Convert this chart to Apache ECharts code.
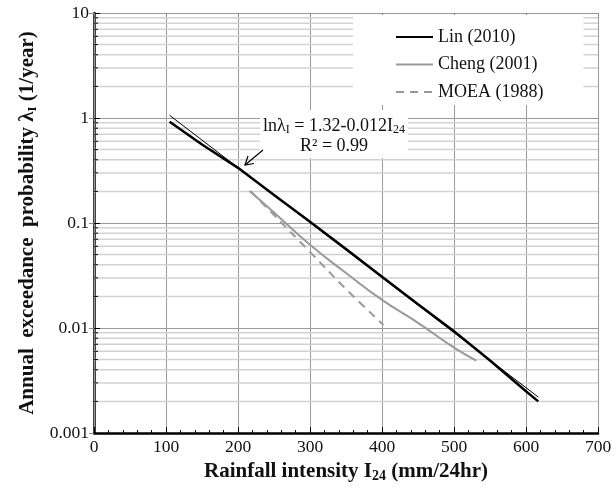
<!DOCTYPE html>
<html>
<head>
<meta charset="utf-8">
<script src="https://cdn.jsdelivr.net/npm/echarts@6/dist/echarts.min.js"></script>
<style>
html, body { margin: 0; padding: 0; background: #fff; }
#main { width: 616px; height: 491px; }
</style>
</head>
<body>
<div id="main"></div>
<script>
// values: [I24, lambda]
var linData   = [[105, 0.92], [150, 0.56], [200, 0.335], [250, 0.185], [300, 0.103], [350, 0.0565],
                 [400, 0.0308], [450, 0.0168], [500, 0.0093], [550, 0.0049], [600, 0.0025], [617, 0.002]];
var fitData   = [[105, 1.06], [617, 0.0022]];   // ln(lambda) = 1.32 - 0.012 I24
var chengData = [[216, 0.202], [250, 0.126], [300, 0.062], [350, 0.0334], [400, 0.0185],
                 [450, 0.0112], [500, 0.0065], [531, 0.0049]];
var moeaData  = [[218, 0.2], [250, 0.119], [300, 0.053], [350, 0.0235], [402, 0.0107]];

var seriesNames = ['Lin (2010)', 'Cheng (2001)', 'MOEA (1988)'];
var yDecades = [0.001, 0.01, 0.1, 1];
var yMinorSteps = [2, 3, 4, 5, 6, 7, 8, 9];

var FONT = 'Liberation Serif';

// minor log levels 0.002 ... 9
var minorLevels = [];
for (var i = 0; i < yDecades.length; i++) {
	for (var j = 0; j < yMinorSteps.length; j++) {
		minorLevels.push([0, +(yDecades[i] * yMinorSteps[j]).toPrecision(3)]);
	}
}

var chart = echarts.init(document.getElementById('main'));

chart.setOption({
	backgroundColor: '#fff',
	animation: false,
	grid: { left: 94, right: 18, top: 13, bottom: 58 },
	legend: {
		data: seriesNames,
		orient: 'vertical',
		left: 353,
		top: 15,
		backgroundColor: '#fff',
		padding: [13, 40, 4, 42],
		itemWidth: 37,
		itemHeight: 14,
		itemGap: 9.5,
		itemStyle: { opacity: 0 },
		textStyle: { fontFamily: FONT, fontSize: 18, color: '#111' }
	},
	xAxis: [{
		type: 'value',
		min: 0, max: 700, interval: 100,
		name: '{b|Rainfall intensity I}{s|24}{b| (mm/24hr)}',
		nameLocation: 'middle',
		nameGap: 22,
		nameTextStyle: {
			rich: {
				b: { fontFamily: FONT, fontWeight: 'bold', fontSize: 21, color: '#111' },
				s: { fontFamily: FONT, fontWeight: 'bold', fontSize: 14, color: '#111', padding: [9, 0, 0, 0] }
			}
		},
		axisLine: { show: true, lineStyle: { color: '#000', width: 2.5 } },
		axisTick: { inside: true, length: 6, lineStyle: { color: '#000' } },
		minorTick: { show: true, splitNumber: 5, length: 3, lineStyle: { color: '#000' } },
		axisLabel: { fontFamily: FONT, fontSize: 17.5, color: '#111', margin: 5 },
		splitLine: { show: true, lineStyle: { color: '#9a9a9a', width: 1 } }
	}, {
		type: 'value',
		position: 'top',
		min: 0, max: 700, interval: 100,
		axisLine: { show: true, lineStyle: { color: '#999', width: 1 } },
		axisTick: { inside: true, length: 5, lineStyle: { color: '#888' } },
		axisLabel: { show: false },
		splitLine: { show: false }
	}],
	yAxis: [{
		type: 'log',
		logBase: 10,
		min: 0.001, max: 10,
		name: '{b|Annual  exceedance  probability λ}{s|I}{b| (1/year)}',
		nameLocation: 'middle',
		nameGap: 54,
		nameTextStyle: {
			rich: {
				b: { fontFamily: FONT, fontWeight: 'bold', fontSize: 21, color: '#111' },
				s: { fontFamily: FONT, fontWeight: 'bold', fontSize: 13, color: '#111', padding: [9, 0, 0, 0] }
			}
		},
		axisLine: { show: true, lineStyle: { color: '#000', width: 2.5 } },
		axisTick: { inside: true, length: 6, lineStyle: { color: '#000' } },
		axisLabel: { fontFamily: FONT, fontSize: 17.5, color: '#111', margin: 5 },
		splitLine: { show: true, lineStyle: { color: '#9a9a9a', width: 1 } }
	}, {
		type: 'log',
		logBase: 10,
		position: 'right',
		min: 0.001, max: 10,
		axisLine: { show: true, lineStyle: { color: '#999', width: 1 } },
		axisTick: { inside: true, length: 5, lineStyle: { color: '#888' } },
		axisLabel: { show: false },
		splitLine: { show: false }
	}],
	series: [{
		// minor log gridlines and left ticks
		type: 'custom',
		silent: true,
		z: 1,
		data: minorLevels,
		renderItem: function (params, api) {
			var y = api.coord([0, api.value(1)])[1];
			var cs = params.coordSys;
			return {
				type: 'group',
				children: [{
					type: 'line',
					shape: { x1: cs.x, y1: y, x2: cs.x + cs.width, y2: y },
					style: { stroke: '#d2d2d2', lineWidth: 1.5 }
				}, {
					type: 'line',
					shape: { x1: cs.x, y1: y, x2: cs.x + 4, y2: y },
					style: { stroke: '#000', lineWidth: 1 }
				}]
			};
		}
	}, {
		name: 'fit',
		type: 'line',
		data: fitData,
		symbol: 'none',
		z: 3,
		lineStyle: { color: '#000', width: 1 }
	}, {
		name: seriesNames[0],
		type: 'line',
		data: linData,
		symbol: 'none',
		z: 4,
		lineStyle: { color: '#000', width: 2.5 },
		itemStyle: { color: '#000' }
	}, {
		name: seriesNames[1],
		type: 'line',
		data: chengData,
		symbol: 'none',
		smooth: true,
		z: 4,
		lineStyle: { color: '#999', width: 2 },
		itemStyle: { color: '#999' }
	}, {
		name: seriesNames[2],
		type: 'line',
		data: moeaData,
		symbol: 'none',
		smooth: true,
		z: 4,
		lineStyle: { color: '#999', width: 2, type: [8, 6] },
		itemStyle: { color: '#999' }
	}],
	graphic: [{
		type: 'rect',
		z: 50,
		shape: { x: 260, y: 110, width: 148, height: 48 },
		style: { fill: '#fff' }
	}, {
		type: 'text',
		z: 51,
		x: 334, y: 126,
		style: {
			text: '{a|lnλ}{s|I}{a| = 1.32-0.012I}{s|24}',
			align: 'center',
			verticalAlign: 'middle',
			rich: {
				a: { fontFamily: FONT, fontSize: 18, fill: '#111' },
				s: { fontFamily: FONT, fontSize: 12, fill: '#111', padding: [8, 0, 0, 0] }
			}
		}
	}, {
		type: 'text',
		z: 51,
		x: 334, y: 146,
		style: {
			text: 'R² = 0.99',
			align: 'center',
			verticalAlign: 'middle',
			font: '18px "Liberation Serif"',
			fill: '#111'
		}
	}, {
		type: 'polyline',
		z: 51,
		shape: { points: [[263, 150], [245, 165]] },
		style: { stroke: '#000', lineWidth: 1.2, fill: null }
	}, {
		type: 'polyline',
		z: 51,
		shape: { points: [[248, 156], [245, 165], [254, 163.5]] },
		style: { stroke: '#000', lineWidth: 1.2, fill: null }
	}]
});
</script>
</body>
</html>
